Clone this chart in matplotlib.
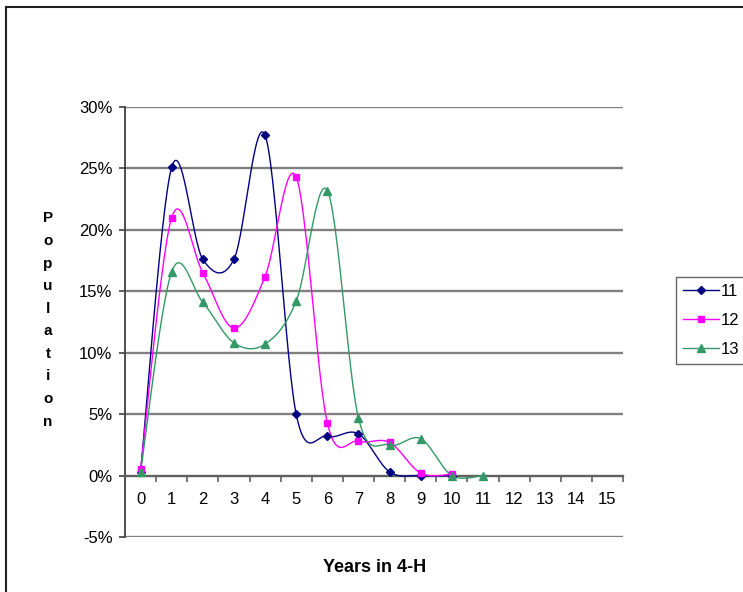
import numpy as np
import matplotlib
matplotlib.use("Agg")
import matplotlib.pyplot as plt
from matplotlib.patches import Rectangle
from matplotlib.lines import Line2D
from matplotlib.ticker import FuncFormatter, FixedLocator

plt.rcParams['font.family'] = ['Liberation Sans', 'DejaVu Sans']

# years in 4-H (category axis)
years = list(range(16))

# share of members per age group, percent
age11 = [0.3, 25.1, 17.6, 17.6, 27.7, 5.0, 3.2, 3.4, 0.3, 0.0, 0.0]
age12 = [0.5, 21.0, 16.5, 12.0, 16.2, 24.3, 4.3, 2.8, 2.7, 0.2, 0.1]
age13 = [0.3, 16.6, 14.1, 10.8, 10.7, 14.2, 23.2, 4.7, 2.5, 3.0, 0.0, 0.0]

series = [
    ("11", age11, "#000080", "D", 4.5),
    ("12", age12, "#FF00FF", "s", 4.8),
    ("13", age13, "#339966", "^", 5.3),
]


def smooth(y, n=30):
    # cubic Bezier through every point, Catmull-Rom style control points
    y = np.asarray(y, float)
    x = np.arange(len(y), dtype=float)
    pts = np.column_stack([x, y])
    out = [pts[0]]
    t = np.linspace(0, 1, n)[1:, None]
    for i in range(len(pts) - 1):
        p0 = pts[max(i - 1, 0)]
        p1 = pts[i]
        p2 = pts[i + 1]
        p3 = pts[min(i + 2, len(pts) - 1)]
        c1 = p1 + (p2 - p0) / 6
        c2 = p2 - (p3 - p1) / 6
        seg = ((1 - t) ** 3 * p1 + 3 * (1 - t) ** 2 * t * c1
               + 3 * (1 - t) * t ** 2 * c2 + t ** 3 * p2)
        out.extend(seg)
    out = np.array(out)
    return out[:, 0], out[:, 1]


W, H = 743, 592
fig = plt.figure(figsize=(W / 100, H / 100), dpi=100)
ax = fig.add_axes([125 / W, 55 / H, 498 / W, 430 / H])

for label, vals, color, marker, ms in series:
    sx, sy = smooth(vals)
    ax.plot(sx, sy, color=color, lw=1.0, zorder=3)
    ax.plot(range(len(vals)), vals, linestyle="none", marker=marker,
            color=color, markersize=ms, zorder=4)

ax.set_xlim(-0.5, 15.5)
ax.set_ylim(-5, 30)
ax.set_yticks(np.arange(-5, 31, 5))
ax.yaxis.set_major_formatter(FuncFormatter(lambda v, p: f"{v:.0f}%"))
for yv in np.arange(-5, 31, 5):
    if yv != 0:
        ax.axhline(yv, color="#808080", lw=1.7, zorder=1)

for s in ["top", "right"]:
    ax.spines[s].set_visible(False)
ax.spines["left"].set_color("#404040")
ax.spines["left"].set_linewidth(1.3)
ax.spines["bottom"].set_position(("data", 0))
ax.spines["bottom"].set_color("#606060")
ax.spines["bottom"].set_linewidth(1.7)

# categories sit between tick marks that hang below the zero line
ax.set_xticks(years)
ax.xaxis.set_minor_locator(FixedLocator(np.arange(0.5, 15.6, 1)))
ax.tick_params(axis="x", which="major", length=0, labelsize=12, pad=12)
ax.tick_params(axis="x", which="minor", length=4, width=1.2, color="#606060",
               direction="out")
ax.tick_params(axis="y", length=4, width=1.2, color="#404040", labelsize=12, pad=5)

fig.text(375 / W, 1 - 568 / H, "Years in 4-H", ha="center", va="center",
         fontsize=13, fontweight="bold")
fig.text(48 / W, 1 - 320 / H, "\n".join("Population"), ha="center", va="center",
         fontsize=11, fontweight="bold", linespacing=1.78)

handles = [Line2D([], [], color=c, lw=1.0, marker=m, markersize=ms)
           for _, _, c, m, ms in series]
leg = fig.legend(handles, [s[0] for s in series], loc="upper left",
                 bbox_to_anchor=(676 / W, 1 - 277 / H), fontsize=12,
                 frameon=True, fancybox=False, handlelength=2.2,
                 handletextpad=0.1, labelspacing=0.85, borderpad=0.4,
                 borderaxespad=0)
leg.get_frame().set_edgecolor("#404040")
leg.get_frame().set_linewidth(1.0)

# outer chart border
fig.patches.append(Rectangle((6 / W, -0.1), 1.2, 1 - 7 / H + 0.1,
                             transform=fig.transFigure, fill=False,
                             edgecolor="#202020", lw=1.5))

fig.savefig("out.png", dpi=100)
